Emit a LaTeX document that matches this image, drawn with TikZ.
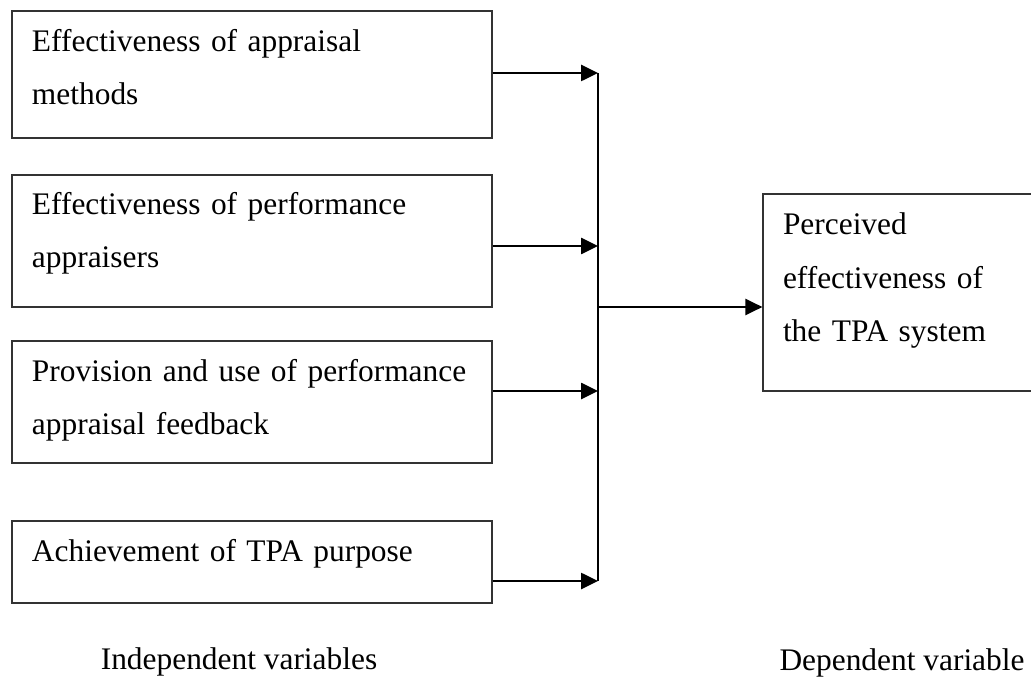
\documentclass[tikz,border=0pt]{standalone}
\usepackage{fontspec}
\setmainfont{Liberation Serif}
\usepackage{tikz}
\usetikzlibrary{arrows.meta}

\begin{document}
\begin{tikzpicture}[x=0.5pt,y=-0.5pt,
  varbox/.style={draw=black!80,line width=0.6pt,rectangle,align=left,inner xsep=10pt,inner ysep=0pt,
    text height=11pt,font=\fontsize{15.7}{26.5}\selectfont},
  feed/.style={line width=1.3pt,-{Triangle[length=8.5pt,width=8pt]}},
  caption/.style={font=\fontsize{15.7}{18}\selectfont}]
\useasboundingbox (0,0) rectangle (1031,678);
\node[varbox,text width=220pt,minimum height=63.5pt,text depth=33.5pt] (meth) at (252,74.5) {Effectiveness of appraisal\\methods};
\node[varbox,text width=220pt,minimum height=66pt,text depth=37pt] (appr) at (252,241) {Effectiveness of performance\\appraisers};
\node[varbox,text width=220pt,minimum height=61pt,text depth=32pt] (fdbk) at (252,402) {Provision and use of performance\\appraisal feedback};
\node[varbox,text width=220pt,minimum height=41pt,text depth=12pt] (purp) at (252,562) {Achievement of TPA purpose};
\node[varbox,text width=124pt,minimum height=98.5pt,text depth=68.5pt] (tpa) at (907,292.5) {Perceived\\effectiveness of\\the TPA system};
\coordinate (j1) at (598,73);
\coordinate (j2) at (598,246);
\coordinate (j3) at (598,391);
\coordinate (j4) at (598,581);
\coordinate (jm) at (598,307);
\draw[feed] (meth.east |- j1) -- (j1);
\draw[feed] (appr.east |- j2) -- (j2);
\draw[feed] (fdbk.east |- j3) -- (j3);
\draw[feed] (purp.east |- j4) -- (j4);
\draw[line width=1.3pt] (j1) -- (j4);
\draw[feed] (jm) -- (jm -| tpa.west);
\node[caption] (indep) at (239,662) {Independent variables};
\node[caption] (dep) at (902,663) {Dependent variable};
\end{tikzpicture}
\end{document}
